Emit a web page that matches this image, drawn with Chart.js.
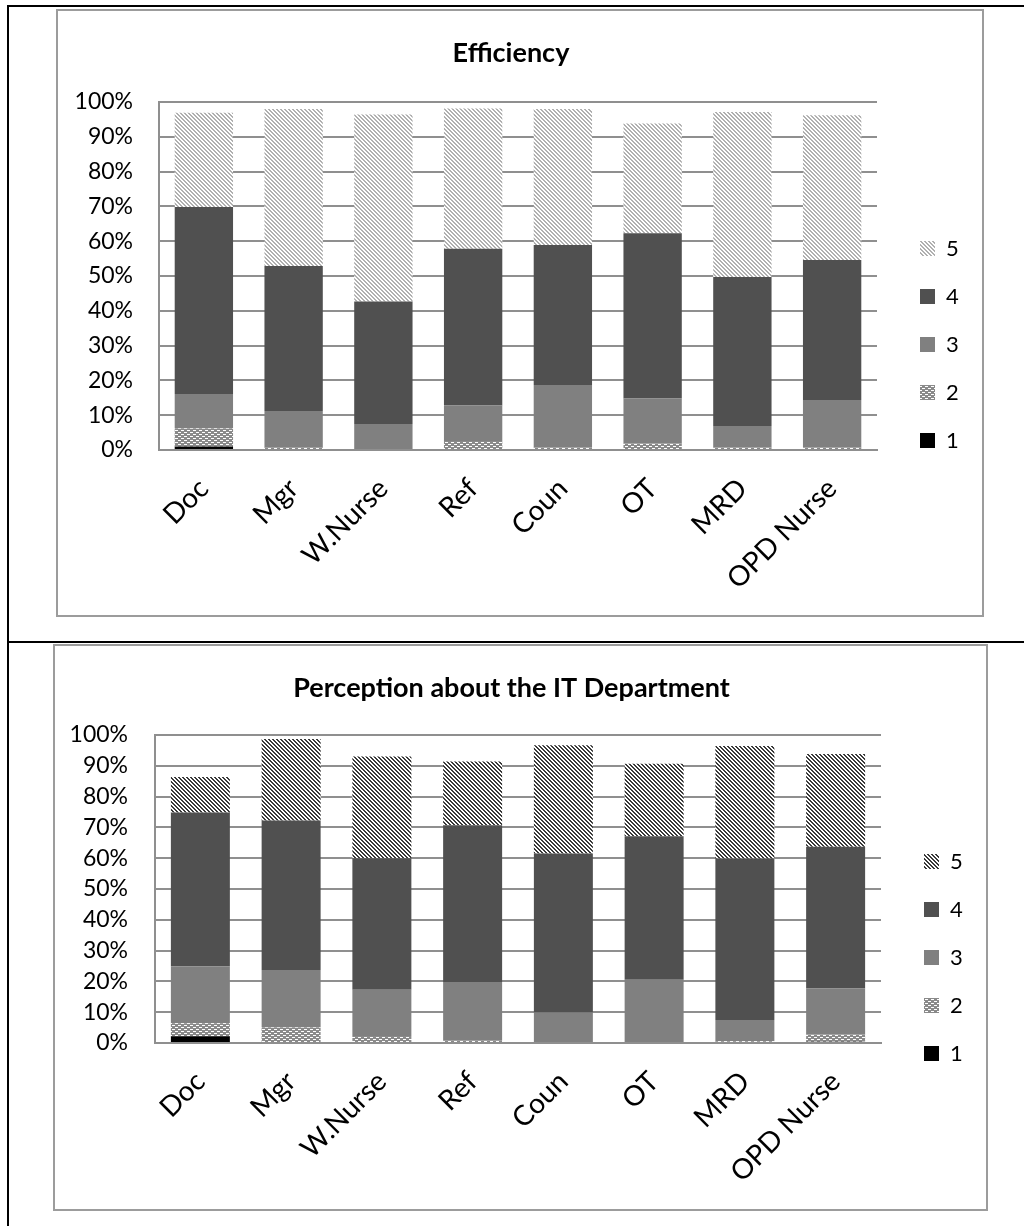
<!DOCTYPE html>
<html>
<head>
<meta charset="utf-8">
<script src="https://cdn.jsdelivr.net/npm/chart.js@4.4.1/dist/chart.umd.min.js"></script>
<style>
  html, body { margin: 0; padding: 0; background: #fff; }
  body { width: 1024px; height: 1226px; position: relative; overflow: hidden; }
  .line { position: absolute; background: #000; }
  .box { position: absolute; border: 2px solid #9c9c9c; box-sizing: border-box; background: #fff; }
  canvas { position: absolute; left: 0; top: 0; }
</style>
</head>
<body>
<div class="line" style="left:7px;top:5px;width:1017px;height:2px;"></div>
<div class="line" style="left:7px;top:5px;width:2px;height:1221px;"></div>
<div class="line" style="left:7px;top:641px;width:1017px;height:2px;"></div>

<div class="box" style="left:56px;top:9px;width:928px;height:608px;">
  <canvas id="c1" width="924" height="604"></canvas>
</div>
<div class="box" style="left:53px;top:644px;width:935px;height:567px;">
  <canvas id="c2" width="931" height="563"></canvas>
</div>

<script>
// ---------- DATA ----------
const categories = ['Doc', 'Mgr', 'W.Nurse', 'Ref', 'Coun', 'OT', 'MRD', 'OPD Nurse'];
const seriesLabels = ['1', '2', '3', '4', '5'];

// Efficiency (percent of respondents per rating)
const eff1 = [1.0, 0, 0, 0, 0, 0, 0, 0];
const eff2 = [5.2, 0.8, 0, 2.6, 0.7, 1.9, 0.7, 0.7];
const eff3 = [9.9, 10.4, 7.5, 10.2, 18.0, 12.9, 6.2, 13.7];
const eff4 = [53.7, 41.7, 35.2, 45.0, 40.2, 47.5, 42.8, 40.2];
const eff5 = [27.1, 45.1, 53.7, 40.3, 39.1, 31.5, 47.4, 41.6];

// Perception about the IT Department
const per1 = [2.2, 0, 0, 0, 0, 0, 0, 0.4];
const per2 = [4.2, 5.0, 2.3, 0.9, 0, 0, 0.6, 2.4];
const per3 = [18.5, 18.7, 15.0, 18.9, 9.9, 20.5, 6.9, 14.9];
const per4 = [49.9, 48.5, 42.7, 50.9, 51.6, 46.6, 52.4, 46.0];
const per5 = [11.6, 26.5, 33.0, 20.7, 35.2, 23.6, 36.5, 30.1];

const yTickStep = 10;
const yMax = 100;

// ---------- PATTERNS ----------
function stripePattern(ctx, size, thick, color) {
  const c = document.createElement('canvas');
  c.width = size; c.height = size;
  const g = c.getContext('2d');
  g.fillStyle = '#ffffff';
  g.fillRect(0, 0, size, size);
  g.fillStyle = color;
  for (let i = 0; i < size; i++) {
    for (let t = 0; t < thick; t++) {
      g.fillRect((i + t) % size, i, 1, 1);
    }
  }
  return ctx.createPattern(c, 'repeat');
}
function dotPattern(ctx) {
  const c = document.createElement('canvas');
  c.width = 6; c.height = 4;
  const g = c.getContext('2d');
  g.fillStyle = '#8a8a8a';
  g.fillRect(0, 0, 6, 4);
  g.fillStyle = '#ffffff';
  g.fillRect(0, 1, 3, 1);
  g.fillRect(3, 3, 3, 1);
  return ctx.createPattern(c, 'repeat');
}

Chart.defaults.font.family = 'Lato, "Open Sans", sans-serif';
Chart.defaults.color = '#000';

function makeChart(id, title, series, stripeColor, stripeThick, stripeSize, opts) {
  const canvas = document.getElementById(id);
  const ctx = canvas.getContext('2d');
  const fills = [
    '#000000',
    dotPattern(ctx),
    '#808080',
    '#505050',
    stripePattern(ctx, stripeSize, stripeThick, stripeColor)
  ];
  const datasets = series.map((vals, i) => ({
    label: seriesLabels[i],
    data: vals,
    backgroundColor: fills[i],
    borderWidth: 0,
    barPercentage: 0.65,
    categoryPercentage: 1.0
  }));
  const gridColor = '#8f8f8f';
  return new Chart(ctx, {
    type: 'bar',
    data: { labels: categories, datasets },
    options: {
      responsive: false,
      animation: false,
      devicePixelRatio: 1,
      layout: { padding: { left: 0, right: 18, top: 0, bottom: 0 } },
      plugins: {
        tooltip: { enabled: false },
        title: {
          display: true,
          text: title,
          font: { size: 27, weight: 'bold' },
          padding: { top: 25.8, bottom: opts.titleBottom }
        },
        legend: {
          position: 'right',
          reverse: true,
          maxWidth: 70,
          title: { display: true, text: ' ', font: { size: 10 }, padding: { top: opts.legendShift, bottom: 0 } },
          labels: {
            boxWidth: 15,
            boxHeight: 15,
            padding: 26,
            font: { size: 22 }
          }
        }
      },
      scales: {
        x: {
          stacked: true,
          grid: { display: false },
          border: { display: true, color: gridColor, width: 2 },
          ticks: {
            autoSkip: false,
            maxRotation: 45,
            minRotation: 45,
            padding: 14,
            font: { size: 28 }
          },
          afterFit(s) { s.height = opts.xHeight; }
        },
        y: {
          stacked: true,
          min: 0,
          max: yMax,
          grid: { color: gridColor, lineWidth: 2, drawTicks: false },
          border: { display: true, color: gridColor, width: 2 },
          ticks: {
            stepSize: yTickStep,
            padding: opts.yPad,
            font: { size: 23 },
            callback: v => v + '%'
          },
          afterFit(s) { s.width = opts.yWidth; }
        },
        gap: {
          position: 'right',
          display: true,
          grid: { display: false, drawTicks: false },
          border: { display: false },
          ticks: { display: false },
          afterFit(s) { s.width = 17; }
        }
      }
    }
  });
}

makeChart('c1', 'Efficiency', [eff1, eff2, eff3, eff4, eff5], '#b0b0b0', 2, 4,
  { titleBottom: 32.8, legendShift: 51, xHeight: 165, yWidth: 101, yPad: 26 });
makeChart('c2', 'Perception about the IT Department', [per1, per2, per3, per4, per5], '#3a3a3a', 2, 4,
  { titleBottom: 30.8, legendShift: 48, xHeight: 166, yWidth: 100, yPad: 27 });
</script>
</body>
</html>
